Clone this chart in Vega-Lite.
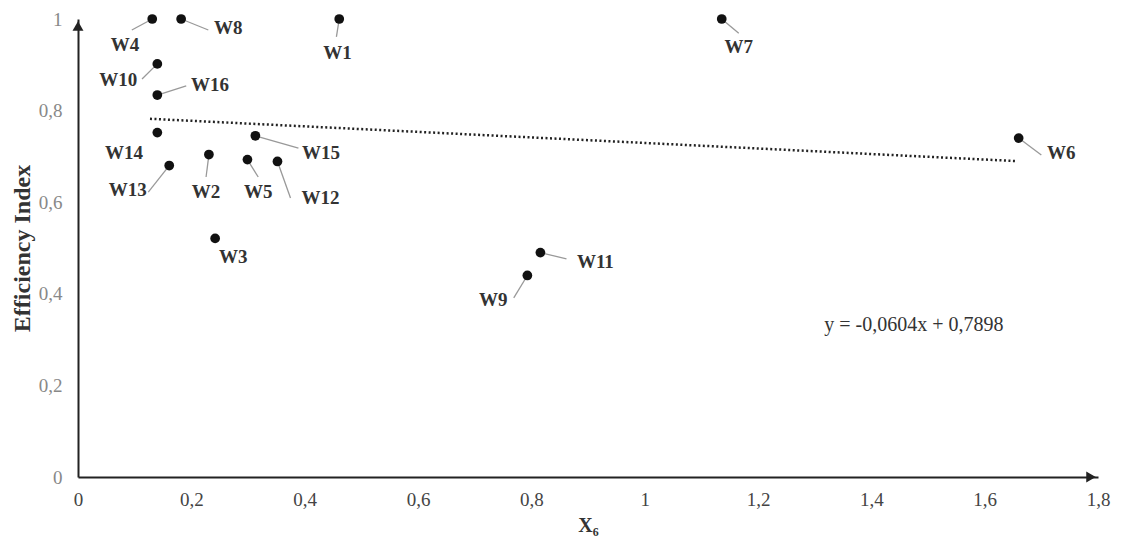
{
  "$schema": "https://vega.github.io/schema/vega-lite/v6.json",
  "autosize": "none",
  "width": 1020,
  "height": 458,
  "padding": {"left": 78, "top": 19, "right": 28, "bottom": 63},
  "background": "white",
  "data": {"values": [{}]},
  "config": {"view": {"stroke": null}, "font": "Liberation Serif"},
  "datasets": {
    "pts": [
      {"name": "W1", "x": 0.461, "y": 1.0, "lx": 0.458, "ly": 0.926, "ex": 0.456, "ey": 0.961},
      {"name": "W2", "x": 0.231, "y": 0.704, "lx": 0.226, "ly": 0.622, "ex": 0.226, "ey": 0.655},
      {"name": "W3", "x": 0.242, "y": 0.521, "lx": 0.274, "ly": 0.48, "ex": null, "ey": null},
      {"name": "W4", "x": 0.131, "y": 1.0, "lx": 0.083, "ly": 0.943, "ex": 0.095, "ey": 0.976},
      {"name": "W5", "x": 0.299, "y": 0.693, "lx": 0.318, "ly": 0.622, "ex": 0.318, "ey": 0.655},
      {"name": "W6", "x": 1.66, "y": 0.74, "lx": 1.735, "ly": 0.707, "ex": 1.7, "ey": 0.703},
      {"name": "W7", "x": 1.136, "y": 1.0, "lx": 1.166, "ly": 0.939, "ex": 1.166, "ey": 0.969},
      {"name": "W8", "x": 0.182, "y": 1.0, "lx": 0.265, "ly": 0.98, "ex": 0.23, "ey": 0.976},
      {"name": "W9", "x": 0.793, "y": 0.44, "lx": 0.733, "ly": 0.386, "ex": 0.769, "ey": 0.391},
      {"name": "W10", "x": 0.14, "y": 0.902, "lx": 0.071, "ly": 0.867, "ex": 0.113, "ey": 0.869},
      {"name": "W11", "x": 0.816, "y": 0.49, "lx": 0.913, "ly": 0.469, "ex": 0.862, "ey": 0.476},
      {"name": "W12", "x": 0.352, "y": 0.689, "lx": 0.428, "ly": 0.609, "ex": 0.375, "ey": 0.609},
      {"name": "W13", "x": 0.161, "y": 0.68, "lx": 0.088, "ly": 0.627, "ex": 0.124, "ey": 0.622},
      {"name": "W14", "x": 0.14, "y": 0.752, "lx": 0.081, "ly": 0.707, "ex": null, "ey": null},
      {"name": "W15", "x": 0.313, "y": 0.745, "lx": 0.429, "ly": 0.707, "ex": 0.389, "ey": 0.718},
      {"name": "W16", "x": 0.14, "y": 0.834, "lx": 0.233, "ly": 0.856, "ex": 0.191, "ey": 0.854}
    ],
    "trend": [
      {"x": 0.127, "y": 0.7821},
      {"x": 1.655, "y": 0.6898}
    ]
  },
  "layer": [
    {
      "data": {"name": "trend"},
      "mark": {"type": "line", "color": "#222", "strokeWidth": 2.5, "strokeDash": [2, 2.5]},
      "encoding": {
        "x": {
          "field": "x", "type": "quantitative",
          "scale": {"domain": [0, 1.8], "nice": false, "zero": true},
          "axis": {
            "values": [0, 0.2, 0.4, 0.6, 0.8, 1, 1.2, 1.4, 1.6, 1.8],
            "labelExpr": "replace(format(datum.value, '~g'), '.', ',')",
            "grid": false, "ticks": false,
            "domainColor": "#222", "domainWidth": 2,
            "labelFont": "Liberation Serif", "labelFontSize": 19, "labelColor": "#444",
            "labelPadding": 13, "labelFlush": false,
            "title": "X₆", "titleFont": "Liberation Serif", "titleFontSize": 20,
            "titleFontWeight": "bold", "titleColor": "#333", "titlePadding": 6
          }
        },
        "y": {
          "field": "y", "type": "quantitative",
          "scale": {"domain": [0, 1], "nice": false, "zero": true},
          "axis": {
            "values": [0, 0.2, 0.4, 0.6, 0.8, 1],
            "labelExpr": "replace(format(datum.value, '~g'), '.', ',')",
            "grid": false, "ticks": false,
            "domainColor": "#222", "domainWidth": 2,
            "labelFont": "Liberation Serif", "labelFontSize": 19, "labelColor": "#888",
            "labelPadding": 16, "labelFlush": false,
            "title": "Efficiency Index", "titleFont": "Liberation Serif", "titleFontSize": 24,
            "titleFontWeight": "bold", "titleColor": "#333", "titlePadding": 4
          }
        }
      }
    },
    {
      "data": {"name": "pts"},
      "transform": [{"filter": "datum.ex != null"}],
      "mark": {"type": "rule", "color": "#999", "strokeWidth": 1.3},
      "encoding": {
        "x": {"field": "x", "type": "quantitative"},
        "y": {"field": "y", "type": "quantitative"},
        "x2": {"field": "ex"},
        "y2": {"field": "ey"}
      }
    },
    {
      "data": {"name": "pts"},
      "mark": {"type": "circle", "color": "#111", "opacity": 1, "size": 95},
      "encoding": {
        "x": {"field": "x", "type": "quantitative"},
        "y": {"field": "y", "type": "quantitative"}
      }
    },
    {
      "data": {"name": "pts"},
      "mark": {"type": "text", "font": "Liberation Serif", "fontSize": 19, "fontWeight": "bold", "color": "#333", "align": "center", "baseline": "middle"},
      "encoding": {
        "x": {"field": "lx", "type": "quantitative"},
        "y": {"field": "ly", "type": "quantitative"},
        "text": {"field": "name"}
      }
    },
    {
      "mark": {"type": "text", "font": "Liberation Serif", "fontSize": 20, "color": "#333", "align": "center", "baseline": "middle"},
      "encoding": {
        "x": {"datum": 1.475},
        "y": {"datum": 0.332},
        "text": {"value": "y = -0,0604x + 0,7898"}
      }
    },
    {
      "mark": {"type": "point", "shape": "triangle-up", "filled": true, "color": "#222", "size": 120, "opacity": 1, "yOffset": 7, "strokeWidth": 0},
      "encoding": {"x": {"datum": 0}, "y": {"datum": 1}}
    },
    {
      "mark": {"type": "point", "shape": "triangle-right", "filled": true, "color": "#222", "size": 120, "opacity": 1, "xOffset": -7, "strokeWidth": 0},
      "encoding": {"x": {"datum": 1.8}, "y": {"datum": 0}}
    }
  ]
}
